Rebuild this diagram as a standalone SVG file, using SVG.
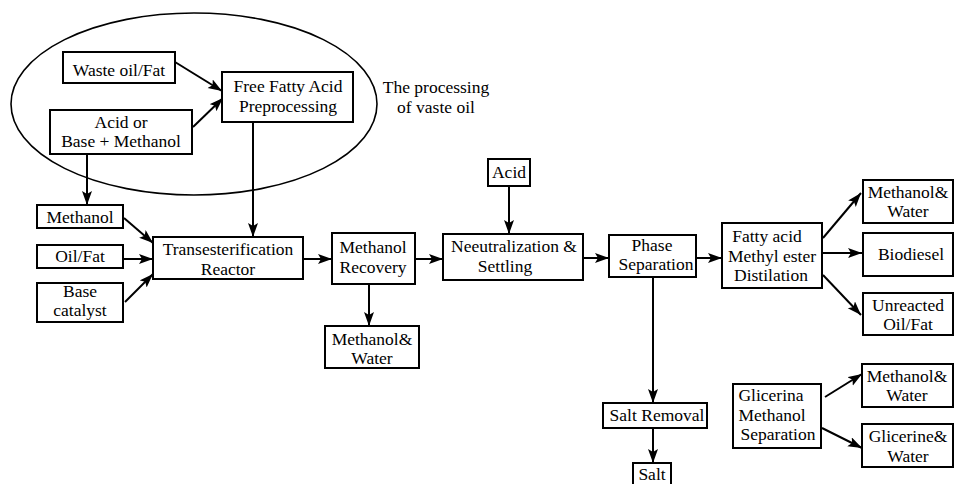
<svg xmlns="http://www.w3.org/2000/svg" width="955" height="484" viewBox="0 0 955 484">
<style>
.box{fill:#fff;stroke:#000;stroke-width:2}
text{font-family:'Liberation Serif','Times New Roman',serif;font-size:17.5px;fill:#000;text-anchor:middle}
.c{fill:none;stroke:#000;stroke-width:2;marker-end:url(#ah)}
</style>
<defs>
<marker id="ah" markerUnits="userSpaceOnUse" markerWidth="16" markerHeight="12" refX="14" refY="5" orient="auto">
<path d="M0,0 L14,5 L0,10 L3,5 Z" fill="#000"/>
</marker>
</defs>
<rect width="955" height="484" fill="#fff"/>
<g id="vaste-oil-group">
<ellipse cx="194" cy="104" rx="183" ry="91" fill="none" stroke="#000" stroke-width="1.6"/>
<text x="436" y="93">The processing</text>
<text x="436" y="112.5">of vaste oil</text>
</g>
<g id="connectors">
<line class="c" x1="175" y1="62" x2="222" y2="91"/>
<line class="c" x1="193" y1="127" x2="223" y2="98"/>
<line class="c" x1="87" y1="154" x2="87" y2="205"/>
<line class="c" x1="253" y1="122" x2="253" y2="237"/>
<line class="c" x1="124" y1="218" x2="153" y2="243"/>
<line class="c" x1="123" y1="259" x2="153" y2="259"/>
<line class="c" x1="125" y1="302" x2="153" y2="274"/>
<line class="c" x1="303" y1="259" x2="332" y2="259"/>
<line class="c" x1="415" y1="259" x2="443" y2="259"/>
<line class="c" x1="369" y1="284" x2="369" y2="326"/>
<line class="c" x1="509" y1="186" x2="509" y2="234"/>
<line class="c" x1="583" y1="258" x2="609" y2="258"/>
<line class="c" x1="696" y1="258" x2="722" y2="258"/>
<line class="c" x1="653" y1="277" x2="653" y2="403"/>
<line class="c" x1="653" y1="428" x2="653" y2="463"/>
<line class="c" x1="823" y1="238" x2="861" y2="193"/>
<line class="c" x1="822" y1="253" x2="862" y2="253"/>
<line class="c" x1="823" y1="275" x2="861" y2="315"/>
<line class="c" x1="825" y1="397" x2="862" y2="374"/>
<line class="c" x1="822" y1="428" x2="862" y2="448"/>
</g>
<g id="waste-oil"><rect class="box" x="63" y="52" width="112" height="31"/><text x="119" y="76">Waste oil/Fat</text></g>
<g id="acid-base-methanol"><rect class="box" x="50" y="110" width="142" height="44"/><text x="121" y="127.5">Acid or</text><text x="121" y="147">Base + Methanol</text></g>
<g id="ffa-preprocessing"><rect class="box" x="222" y="72" width="131" height="50"/><text x="288" y="92">Free Fatty Acid</text><text x="288" y="111.5">Preprocessing</text></g>
<g id="methanol-in"><rect class="box" x="37" y="205" width="86" height="23"/><text x="80" y="223">Methanol</text></g>
<g id="oil-fat"><rect class="box" x="37" y="245" width="86" height="23"/><text x="80" y="262">Oil/Fat</text></g>
<g id="base-catalyst"><rect class="box" x="37" y="283" width="86" height="39"/><text x="80" y="296.5">Base</text><text x="80" y="316">catalyst</text></g>
<g id="transesterification"><rect class="box" x="153" y="237" width="150" height="42"/><text x="228" y="255">Transesterification</text><text x="228" y="274.5">Reactor</text></g>
<g id="methanol-recovery"><rect class="box" x="332" y="233" width="83" height="51"/><text x="373" y="253">Methanol</text><text x="373" y="272.5">Recovery</text></g>
<g id="methanol-water-1"><rect class="box" x="325" y="326" width="94" height="42"/><text x="372" y="344.5">Methanol&amp;</text><text x="372" y="364">Water</text></g>
<g id="acid"><rect class="box" x="488" y="159" width="42" height="27"/><text x="509" y="178">Acid</text></g>
<g id="neutralization"><rect class="box" x="443" y="234" width="140" height="46"/><text x="514" y="252">Neeutralization &amp;</text><text x="505" y="271.5">Settling</text></g>
<g id="phase-separation"><rect class="box" x="609" y="235" width="87" height="42"/><text x="652" y="250.5">Phase</text><text x="656" y="270">Separation</text></g>
<g id="fame-distilation"><rect class="box" x="722" y="223" width="100" height="65"/><text x="767" y="242">Fatty acid</text><text x="772" y="261.5">Methyl ester</text><text x="771" y="281">Distilation</text></g>
<g id="methanol-water-2"><rect class="box" x="863" y="180" width="90" height="43"/><text x="908" y="197.5">Methanol&amp;</text><text x="908" y="217">Water</text></g>
<g id="biodiesel"><rect class="box" x="863" y="233" width="90" height="43"/><text x="911" y="260">Biodiesel</text></g>
<g id="unreacted"><rect class="box" x="863" y="293" width="90" height="42"/><text x="908" y="310.5">Unreacted</text><text x="908" y="330">Oil/Fat</text></g>
<g id="salt-removal"><rect class="box" x="603" y="403" width="104" height="25"/><text x="657" y="421">Salt Removal</text></g>
<g id="salt"><rect class="box" x="633" y="463" width="38" height="24"/><text x="652" y="480">Salt</text></g>
<g id="glicerina-separation"><rect class="box" x="733" y="384" width="88" height="64"/><text x="771" y="401">Glicerina</text><text x="772" y="420.5">Methanol</text><text x="778" y="440">Separation</text></g>
<g id="methanol-water-3"><rect class="box" x="862" y="364" width="91" height="43"/><text x="907" y="381.5">Methanol&amp;</text><text x="907" y="401">Water</text></g>
<g id="glicerine-water"><rect class="box" x="862" y="424" width="91" height="43"/><text x="908" y="442">Glicerine&amp;</text><text x="908" y="461.5">Water</text></g>
</svg>
